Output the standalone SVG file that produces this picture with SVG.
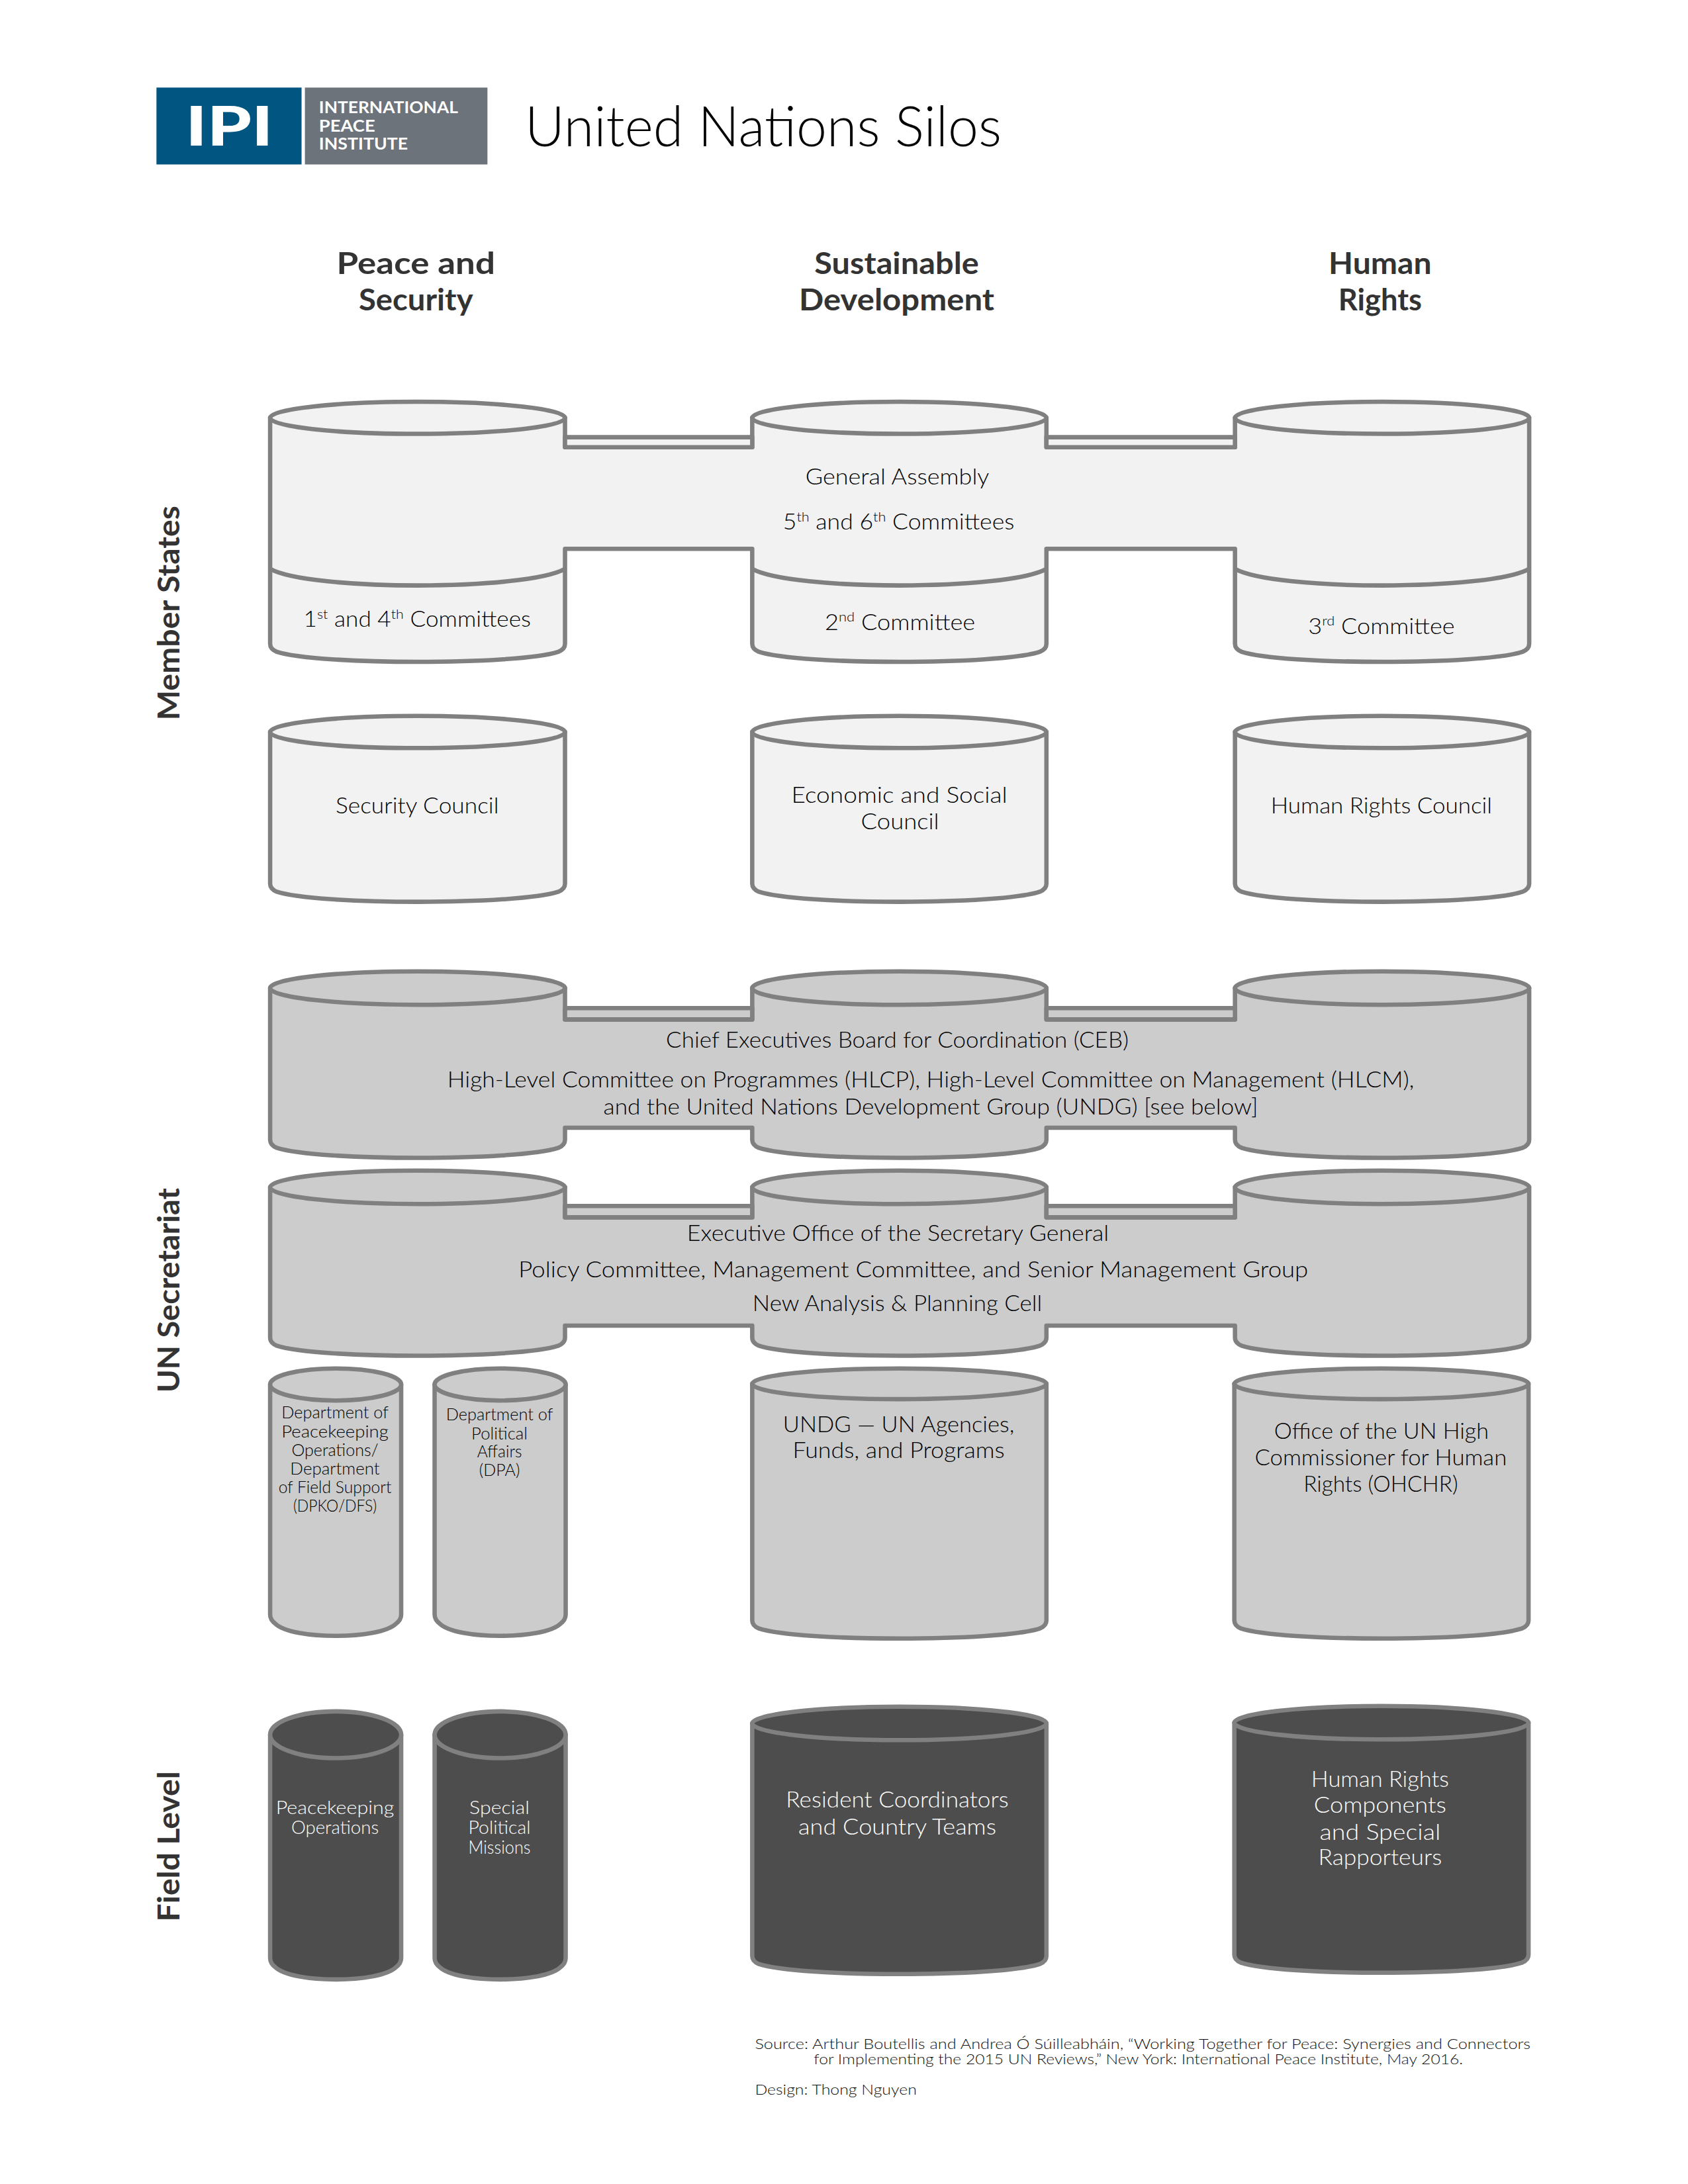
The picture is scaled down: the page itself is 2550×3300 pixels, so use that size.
<svg xmlns="http://www.w3.org/2000/svg" width="2550" height="3300" viewBox="0 0 2550 3300">
<style>
text{font-family:"Lato","Noto Sans","DejaVu Sans",sans-serif;font-weight:300;text-anchor:middle;fill:#000;font-size:33px}
.s{stroke:#808080;stroke-width:6.5;stroke-linejoin:round}
.l{fill:#f2f2f2}.m{fill:#cccccc}.d{fill:#4d4d4d}
.n{fill:none}
text.w{fill:#fff}
text.sm{font-size:25px}
text.dk{font-size:28px;fill:#fff}
text.h{font-size:46px;font-weight:700;fill:#333}
text.side{font-size:46px;font-weight:700;fill:#333}
text.f{font-size:22px;text-anchor:start;fill:#111}
</style>
<rect width="2550" height="3300" fill="#fff"/>
<g transform="scale(1.0101)">
<g id="logo">
<rect x="234" y="131" width="217" height="115" fill="#005581"/>
<rect x="456" y="131" width="273" height="115" fill="#6c737b"/>
<text x="343" y="218" style="font-size:82px;font-weight:900;fill:#fff" textLength="131" lengthAdjust="spacingAndGlyphs">IPI</text>
<text x="477" y="169" style="font-size:24px;font-weight:700;text-anchor:start;fill:#fff" textLength="208" lengthAdjust="spacingAndGlyphs">INTERNATIONAL</text>
<text x="477" y="197" style="font-size:24px;font-weight:700;text-anchor:start;fill:#fff" textLength="84" lengthAdjust="spacingAndGlyphs">PEACE</text>
<text x="477" y="224" style="font-size:24px;font-weight:700;text-anchor:start;fill:#fff" textLength="133" lengthAdjust="spacingAndGlyphs">INSTITUTE</text>
</g>
<text id="title" x="785" y="219" style="font-size:84px;text-anchor:start;fill:#000" textLength="713" lengthAdjust="spacingAndGlyphs">United Nations Silos</text>
<g id="column-headers">
<text class="h" x="622" y="410" textLength="237" lengthAdjust="spacingAndGlyphs">Peace and</text>
<text class="h" x="622" y="464" textLength="171" lengthAdjust="spacingAndGlyphs">Security</text>
<text class="h" x="1341" y="410" textLength="246" lengthAdjust="spacingAndGlyphs">Sustainable</text>
<text class="h" x="1341" y="464" textLength="292" lengthAdjust="spacingAndGlyphs">Development</text>
<text class="h" x="2064" y="410" textLength="154" lengthAdjust="spacingAndGlyphs">Human</text>
<text class="h" x="2064" y="464" textLength="125" lengthAdjust="spacingAndGlyphs">Rights</text>
</g>
<g id="row-labels">
<text class="side" transform="translate(268 917) rotate(-90)" textLength="321" lengthAdjust="spacingAndGlyphs">Member States</text>
<text class="side" transform="translate(268 1930) rotate(-90)" textLength="306" lengthAdjust="spacingAndGlyphs">UN Secretariat</text>
<text class="side" transform="translate(268 2762) rotate(-90)" textLength="225" lengthAdjust="spacingAndGlyphs">Field Level</text>
</g>

<g id="general-assembly">
<path class="s l" d="M404 625V963q0 8 10 12c60 20 361 20 421 0q10 -4 10 -12V821H1125V963q0 8 10 12c60 20 360 20 420 0q10 -4 10 -12V821H1847V963q0 8 10 12c60 20 360 20 420 0q10 -4 10 -12V625H1847V669H1565V625H1125V669H845V625Z"/>
<path class="s n" d="M404 851c60 33 381 33 441 0M1125 851c60 33 380 33 440 0M1847 851c60 33 380 33 440 0"/>
<rect class="s l" x="845" y="654" width="280" height="15"/>
<rect class="s l" x="1565" y="654" width="282" height="15"/>
<ellipse class="s l" cx="624.5" cy="625" rx="220.5" ry="24"/>
<ellipse class="s l" cx="1345" cy="625" rx="220" ry="24"/>
<ellipse class="s l" cx="2067" cy="625" rx="220" ry="24"/>
<text x="1342" y="725" textLength="275" lengthAdjust="spacingAndGlyphs">General Assembly</text>
<text x="1344" y="792" textLength="346" lengthAdjust="spacingAndGlyphs">5<tspan dy="-12" font-size="20">th</tspan><tspan dy="12"> and 6</tspan><tspan dy="-12" font-size="20">th</tspan><tspan dy="12"> Committees</tspan></text>
<text x="624" y="938" textLength="340" lengthAdjust="spacingAndGlyphs">1<tspan dy="-12" font-size="20">st</tspan><tspan dy="12"> and 4</tspan><tspan dy="-12" font-size="20">th</tspan><tspan dy="12"> Committees</tspan></text>
<text x="1346" y="942" textLength="225" lengthAdjust="spacingAndGlyphs">2<tspan dy="-12" font-size="20">nd</tspan><tspan dy="12"> Committee</tspan></text>
<text x="2066" y="948" textLength="219" lengthAdjust="spacingAndGlyphs">3<tspan dy="-12" font-size="20">rd</tspan><tspan dy="12"> Committee</tspan></text>
</g>

<g id="security-council">
<path class="s l" d="M404 1095V1322q0 8 10 12c60 20 361 20 421 0q10 -4 10 -12V1095Z"/>
<ellipse class="s l" cx="624.5" cy="1095" rx="220.5" ry="24"/>
<text x="624" y="1217" textLength="244" lengthAdjust="spacingAndGlyphs">Security Council</text>
</g>
<g id="ecosoc">
<path class="s l" d="M1125 1095V1322q0 8 10 12c60 20 360 20 420 0q10 -4 10 -12V1095Z"/>
<ellipse class="s l" cx="1345" cy="1095" rx="220" ry="24"/>
<text x="1345" y="1201" textLength="323" lengthAdjust="spacingAndGlyphs">Economic and Social</text>
<text x="1346" y="1240" textLength="117" lengthAdjust="spacingAndGlyphs">Council</text>
</g>
<g id="human-rights-council">
<path class="s l" d="M1847 1095V1322q0 8 10 12c60 20 360 20 420 0q10 -4 10 -12V1095Z"/>
<ellipse class="s l" cx="2067" cy="1095" rx="220" ry="24"/>
<text x="2066" y="1217" textLength="331" lengthAdjust="spacingAndGlyphs">Human Rights Council</text>
</g>

<g id="ceb">
<path class="s m" d="M404 1478V1705q0 8 10 12c60 20 361 20 421 0q10 -4 10 -12V1687H1125V1705q0 8 10 12c60 20 360 20 420 0q10 -4 10 -12V1687H1847V1705q0 8 10 12c60 20 360 20 420 0q10 -4 10 -12V1478H1847V1525H1565V1478H1125V1525H845V1478Z"/>
<rect class="s m" x="845" y="1508" width="280" height="17"/>
<rect class="s m" x="1565" y="1508" width="282" height="17"/>
<ellipse class="s m" cx="624.5" cy="1478" rx="220.5" ry="25"/>
<ellipse class="s m" cx="1345" cy="1478" rx="220" ry="25"/>
<ellipse class="s m" cx="2067" cy="1478" rx="220" ry="25"/>
<text x="1342" y="1567" textLength="692" lengthAdjust="spacingAndGlyphs">Chief Executives Board for Coordination (CEB)</text>
<text x="1392" y="1627" textLength="1446" lengthAdjust="spacingAndGlyphs">High-Level Committee on Programmes (HLCP), High-Level Committee on Management (HLCM),</text>
<text x="1392" y="1667" textLength="979" lengthAdjust="spacingAndGlyphs">and the United Nations Development Group (UNDG) [see below]</text>
</g>

<g id="eosg">
<path class="s m" d="M404 1776V2001q0 8 10 12c60 20 361 20 421 0q10 -4 10 -12V1983H1125V2001q0 8 10 12c60 20 360 20 420 0q10 -4 10 -12V1983H1847V2001q0 8 10 12c60 20 360 20 420 0q10 -4 10 -12V1776H1847V1821H1565V1776H1125V1821H845V1776Z"/>
<rect class="s m" x="845" y="1804" width="280" height="17"/>
<rect class="s m" x="1565" y="1804" width="282" height="17"/>
<ellipse class="s m" cx="624.5" cy="1776" rx="220.5" ry="25"/>
<ellipse class="s m" cx="1345" cy="1776" rx="220" ry="25"/>
<ellipse class="s m" cx="2067" cy="1776" rx="220" ry="25"/>
<text x="1343" y="1856" textLength="631" lengthAdjust="spacingAndGlyphs">Executive Office of the Secretary General</text>
<text x="1366" y="1911" textLength="1181" lengthAdjust="spacingAndGlyphs">Policy Committee, Management Committee, and Senior Management Group</text>
<text x="1342" y="1961" textLength="433" lengthAdjust="spacingAndGlyphs">New Analysis &amp; Planning Cell</text>
</g>

<g id="dpko">
<path class="s m" d="M404 2071V2415q0 8 8 14c25 24 155 24 180 0q8 -6 8 -14V2071Z"/>
<ellipse class="s m" cx="502" cy="2071" rx="98" ry="24"/>
<text class="sm" x="501" y="2122" textLength="160" lengthAdjust="spacingAndGlyphs">Department of</text>
<text class="sm" x="501" y="2150" textLength="160" lengthAdjust="spacingAndGlyphs">Peacekeeping</text>
<text class="sm" x="501" y="2178" textLength="130" lengthAdjust="spacingAndGlyphs">Operations/</text>
<text class="sm" x="501" y="2206" textLength="134" lengthAdjust="spacingAndGlyphs">Department</text>
<text class="sm" x="501" y="2233" textLength="169" lengthAdjust="spacingAndGlyphs">of Field Support</text>
<text class="sm" x="501" y="2261" textLength="125" lengthAdjust="spacingAndGlyphs">(DPKO/DFS)</text>
</g>
<g id="dpa">
<path class="s m" d="M650 2071V2415q0 8 8 14c25 24 155 24 180 0q8 -6 8 -14V2071Z"/>
<ellipse class="s m" cx="748" cy="2071" rx="98" ry="24"/>
<text class="sm" x="747" y="2125" textLength="160" lengthAdjust="spacingAndGlyphs">Department of</text>
<text class="sm" x="747" y="2153" textLength="84" lengthAdjust="spacingAndGlyphs">Political</text>
<text class="sm" x="747" y="2180" textLength="67" lengthAdjust="spacingAndGlyphs">Affairs</text>
<text class="sm" x="747" y="2208" textLength="61" lengthAdjust="spacingAndGlyphs">(DPA)</text>
</g>
<g id="undg">
<path class="s m" d="M1125 2070V2424q0 8 10 12c60 20 360 20 420 0q10 -4 10 -12V2070Z"/>
<ellipse class="s m" cx="1345" cy="2070" rx="220" ry="23"/>
<text x="1344" y="2142" textLength="346" lengthAdjust="spacingAndGlyphs">UNDG — UN Agencies,</text>
<text x="1344" y="2181" textLength="317" lengthAdjust="spacingAndGlyphs">Funds, and Programs</text>
</g>
<g id="ohchr">
<path class="s m" d="M1846 2070V2424q0 8 10 12c60 20 360 20 420 0q10 -4 10 -12V2070Z"/>
<ellipse class="s m" cx="2066" cy="2070" rx="220" ry="23"/>
<text x="2066" y="2152" textLength="321" lengthAdjust="spacingAndGlyphs">Office of the UN High</text>
<text x="2065" y="2192" textLength="377" lengthAdjust="spacingAndGlyphs">Commissioner for Human</text>
<text x="2065" y="2231" textLength="231" lengthAdjust="spacingAndGlyphs">Rights (OHCHR)</text>
</g>

<g id="peacekeeping-operations">
<path class="s d" d="M404 2595V2929q0 8 8 14c25 24 155 24 180 0q8 -6 8 -14V2595Z"/>
<ellipse class="s d" cx="502" cy="2595" rx="98" ry="35"/>
<text class="dk" x="501" y="2714" textLength="177" lengthAdjust="spacingAndGlyphs">Peacekeeping</text>
<text class="dk" x="501" y="2743" textLength="131" lengthAdjust="spacingAndGlyphs">Operations</text>
</g>
<g id="special-political-missions">
<path class="s d" d="M650 2595V2929q0 8 8 14c25 24 155 24 180 0q8 -6 8 -14V2595Z"/>
<ellipse class="s d" cx="748" cy="2595" rx="98" ry="35"/>
<text class="dk" x="747" y="2714" textLength="90" lengthAdjust="spacingAndGlyphs">Special</text>
<text class="dk" x="747" y="2743" textLength="93" lengthAdjust="spacingAndGlyphs">Political</text>
<text class="dk" x="747" y="2773" textLength="93" lengthAdjust="spacingAndGlyphs">Missions</text>
</g>
<g id="resident-coordinators">
<path class="s d" d="M1125 2578V2926q0 8 10 12c60 20 360 20 420 0q10 -4 10 -12V2578Z"/>
<ellipse class="s d" cx="1345" cy="2578" rx="220" ry="25"/>
<text class="w" x="1342" y="2704" textLength="333" lengthAdjust="spacingAndGlyphs">Resident Coordinators</text>
<text class="w" x="1342" y="2744" textLength="296" lengthAdjust="spacingAndGlyphs">and Country Teams</text>
</g>
<g id="human-rights-components">
<path class="s d" d="M1846 2577V2924q0 8 10 12c60 20 360 20 420 0q10 -4 10 -12V2577Z"/>
<ellipse class="s d" cx="2066" cy="2577" rx="220" ry="25"/>
<text class="w" x="2064" y="2673" textLength="206" lengthAdjust="spacingAndGlyphs">Human Rights</text>
<text class="w" x="2064" y="2712" textLength="198" lengthAdjust="spacingAndGlyphs">Components</text>
<text class="w" x="2064" y="2752" textLength="181" lengthAdjust="spacingAndGlyphs">and Special</text>
<text class="w" x="2064" y="2790" textLength="185" lengthAdjust="spacingAndGlyphs">Rapporteurs</text>
</g>
<g id="footer">
<text class="f" x="1129" y="3065" textLength="1160" lengthAdjust="spacingAndGlyphs">Source: Arthur Boutellis and Andrea Ó Súilleabháin, “Working Together for Peace: Synergies and Connectors</text>
<text class="f" x="1217" y="3088" textLength="971" lengthAdjust="spacingAndGlyphs">for Implementing the 2015 UN Reviews,” New York: International Peace Institute, May 2016.</text>
<text class="f" x="1129" y="3133" textLength="242" lengthAdjust="spacingAndGlyphs">Design: Thong Nguyen</text>
</g>
</g>
</svg>
